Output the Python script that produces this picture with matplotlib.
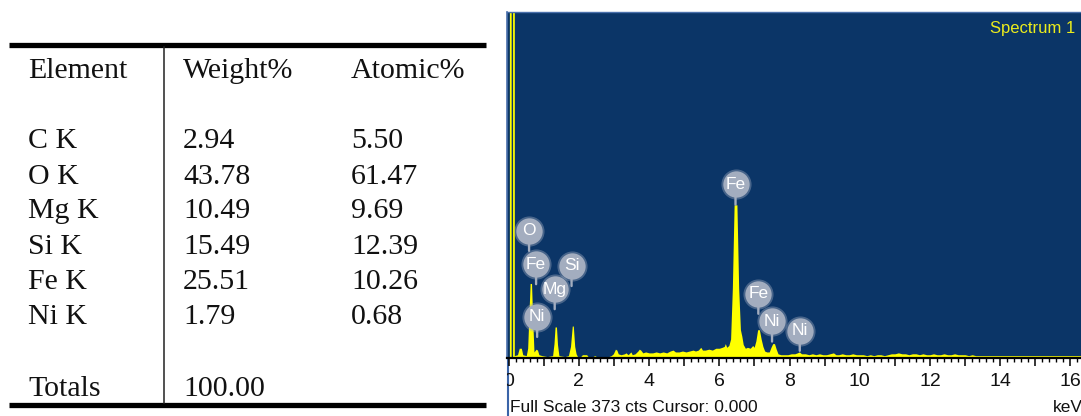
import matplotlib
matplotlib.use("Agg")
import matplotlib.pyplot as plt
from matplotlib import font_manager
from matplotlib.transforms import Bbox, TransformedBbox

# ============================================================
# DATA
# ============================================================
# Quantification table
elements = ["C K", "O K", "Mg K", "Si K", "Fe K", "Ni K"]
weight_pct = ["2.94", "43.78", "10.49", "15.49", "25.51", "1.79"]
atomic_pct = ["5.50", "61.47", "9.69", "12.39", "10.26", "0.68"]
total_weight = "100.00"

# EDS spectrum outline (keV, counts), row by row
spec_kev = [
    0.00, 0.02, 0.02, 0.07, 0.07, 0.11, 0.11, 0.16, 0.16,
    0.25, 0.30, 0.36, 0.40, 0.50, 0.54, 0.58, 0.61, 0.65, 0.68, 0.72, 0.78, 0.82, 0.86,
    0.95, 1.10, 1.25, 1.29, 1.32, 1.36, 1.39, 1.43, 1.60, 1.70, 1.76, 1.81, 1.84, 1.88, 1.92, 1.96,
    2.05, 2.10, 2.22, 2.26, 2.40, 2.45, 2.50, 2.70, 2.85, 2.92, 2.98, 3.04, 3.08,
    3.12, 3.20, 3.30, 3.34, 3.40, 3.48, 3.52, 3.60, 3.68, 3.72, 3.76, 3.82, 3.90,
    4.00, 4.10, 4.20, 4.30, 4.40, 4.50, 4.60, 4.68, 4.75, 4.85, 4.95, 5.05, 5.15,
    5.25, 5.32, 5.40, 5.47, 5.52, 5.60, 5.70, 5.80, 5.90, 6.00, 6.08, 6.14, 6.17,
    6.21, 6.27, 6.32, 6.37, 6.42, 6.50, 6.55, 6.60, 6.64, 6.68, 6.74, 6.80, 6.88, 6.95,
    6.99, 7.04, 7.09, 7.14, 7.19, 7.24, 7.29, 7.35, 7.42, 7.47, 7.52, 7.57, 7.62, 7.67, 7.75,
    7.85, 7.95, 8.05, 8.15, 8.22, 8.28, 8.34, 8.45, 8.55, 8.65, 8.75, 8.85, 8.95,
    9.05, 9.15, 9.25, 9.32, 9.40, 9.50, 9.60, 9.70, 9.80, 9.90, 10.0, 10.1, 10.2,
    10.3, 10.4, 10.5, 10.6, 10.7, 10.8, 10.9, 11.0, 11.1, 11.2, 11.3, 11.4, 11.5,
    11.6, 11.7, 11.8, 11.9, 12.0, 12.1, 12.2, 12.3, 12.4, 12.5, 12.6, 12.7, 12.8,
    12.9, 13.0, 13.1, 13.2, 13.3, 13.5, 13.7, 13.9, 14.1, 14.3, 14.5, 14.7, 14.9,
    15.1, 15.3, 15.5, 15.7, 15.9, 16.1, 16.3,
]
spec_cts = [
    0, 0, 400, 400, 0, 0, 400, 400, 2,
    3, 10, 10, 3, 2, 10, 50, 80, 80, 45, 6, 9, 8, 3,
    2, 1, 2, 15, 33, 33, 14, 2, 1, 2, 12, 34, 34, 12, 4, 1,
    1, 3, 3, 1, 1, 2, 1, 1, 1, 2, 4, 9, 8,
    4, 3, 4, 5, 3, 6, 3, 4, 7, 9, 8, 5, 6,
    5, 5, 6, 5, 6, 5, 7, 8, 6, 6, 7, 6, 7,
    8, 7, 8, 11, 8, 8, 9, 8, 10, 10, 11, 12, 15,
    11, 13, 20, 75, 165, 165, 75, 30, 23, 14, 10, 11, 10, 13,
    11, 18, 30, 30, 20, 12, 7, 6, 6, 11, 15, 15, 9, 4, 3,
    3, 3, 4, 4, 5, 6, 4, 4, 3, 4, 3, 4, 3,
    3, 4, 5, 3, 3, 4, 3, 3, 4, 3, 3, 3, 2,
    3, 2, 3, 3, 2, 3, 4, 4, 5, 4, 4, 3, 4,
    4, 3, 4, 3, 3, 4, 3, 3, 4, 3, 3, 4, 3,
    3, 3, 2, 3, 2, 2, 2, 2, 2, 2, 2, 2, 2,
    2, 2, 2, 2, 2, 2, 2,
]

# Peak labels (symbol, keV, counts at circle centre)
label_sym = ["O", "Fe", "Si", "Mg", "Ni", "Fe", "Fe", "Ni", "Ni"]
label_kev = [0.58, 0.78, 1.79, 1.31, 0.81, 6.46, 7.11, 7.50, 8.29]
label_cts = [137, 101, 99, 74, 44, 187, 69, 39, 29]

tick_kev = list(range(0, 17))
tick_text = ["0", "", "2", "", "4", "", "6", "", "8", "", "10", "", "12", "", "14", "", "16"]

# ============================================================
# STYLE
# ============================================================
W, H = 1081, 416
NAVY = "#0b3567"
YELLOW = "#ffff00"
BUBBLE = "#a3adbf"

names = {f.name for f in font_manager.fontManager.ttflist}
SANS = "Liberation Sans Narrow" if "Liberation Sans Narrow" in names else "Liberation Sans"
SERIF = "Liberation Serif"

fig = plt.figure(figsize=(W / 100, H / 100), dpi=100)
fig.patch.set_facecolor("white")

# overlay in pixel coordinates for the table and captions
ov = fig.add_axes([0, 0, 1, 1])
ov.set_xlim(0, W)
ov.set_ylim(H, 0)
ov.axis("off")

# ---- table ----
ov.plot([9, 486], [45, 45], color="black", lw=3.8, solid_capstyle="butt")
ov.plot([9, 486], [405, 405], color="black", lw=3.8, solid_capstyle="butt")
ov.plot([164, 164], [47, 403], color="#222222", lw=1.1)

col_x = [28, 183, 351]
tkw = dict(family=SERIF, fontsize=21.5, color="#111111", va="baseline", ha="left")
ov.text(col_x[0], 78, "Element", **tkw)
ov.text(col_x[1], 78, "Weight%", **tkw)
ov.text(col_x[2], 78, "Atomic%", **tkw)
row_y = [148, 183.5, 218.5, 253.5, 289, 324]
for y, el, w, a in zip(row_y, elements, weight_pct, atomic_pct):
    ov.text(col_x[0], y, el, **tkw)
    ov.text(col_x[1], y, w, **tkw)
    ov.text(col_x[2], y, a, **tkw)
ov.text(col_x[0], 396, "Totals", **tkw)
ov.text(col_x[1], 396, total_weight, **tkw)

# ---- spectrum captions ----
ov.plot([507.5, 507.5], [357, 416], color="#3a64a8", lw=1.5)
ov.text(509.5, 412, "Full Scale 373 cts Cursor: 0.000", family=SANS, fontsize=12.5,
        color="#111111", va="baseline", ha="left")
ov.text(1053, 412, "keV", family=SANS, fontsize=12.5, color="#111111",
        va="baseline", ha="left")

# ============================================================
# SPECTRUM
# ============================================================
left, right, top, bottom = 507.3, 1081, 12.3, 357.5
ax = fig.add_axes([left / W, (H - bottom) / H, (right - left) / W, (bottom - top) / H])
ax.set_facecolor(NAVY)
ax.fill_between(spec_kev, spec_cts, 0, color=YELLOW, linewidth=0, zorder=2)
ax.set_xlim(-0.04, 16.30)
ax.set_ylim(0, 373)

for sym, e, c in zip(label_sym, label_kev, label_cts):
    ax.annotate("", xy=(e, c), xytext=(0, -14.5), textcoords="offset points",
                arrowprops=dict(arrowstyle="-", color=BUBBLE, lw=1.7, shrinkA=0, shrinkB=0),
                zorder=4)
    ax.scatter([e], [c], s=470, color=BUBBLE, alpha=0.4, linewidths=0, zorder=5)
    ax.scatter([e], [c], s=360, color=BUBBLE, linewidths=0, zorder=5)
    ax.text(e, c, sym, family=SANS, fontsize=12.5, color="white", ha="center",
            va="center", zorder=6)

ax.text(1075, 32.5, "Spectrum 1", transform=ov.transData, family=SANS, fontsize=12,
        color="#ecec1c", ha="right", va="baseline")

ax.set_yticks([])
ax.set_xticks(tick_kev)
ax.set_xticklabels(tick_text, family=SANS, fontsize=14)
ax.set_xticks([i * 0.2 for i in range(82)], minor=True)
ax.tick_params(axis="x", which="major", direction="out", length=5.5, width=1.1,
               color="black", pad=6, labelcolor="#111111")
ax.tick_params(axis="x", which="minor", direction="out", length=3, width=1.0,
               color="black")
ax.spines["right"].set_visible(False)
ax.spines["bottom"].set_color("black")
ax.spines["bottom"].set_linewidth(1.6)
ax.spines["left"].set_color("#4a70ab")
ax.spines["top"].set_color("#4a70ab")
ax.spines["left"].set_linewidth(1.2)
ax.spines["top"].set_linewidth(1.0)

# "0" is cut by the panel edge in the original
clip = TransformedBbox(Bbox([[left / W, 0], [1, 1]]), fig.transFigure)
for lbl in ax.get_xticklabels():
    lbl.set_clip_box(clip)
    lbl.set_clip_on(True)

fig.savefig("out.png", dpi=100)
